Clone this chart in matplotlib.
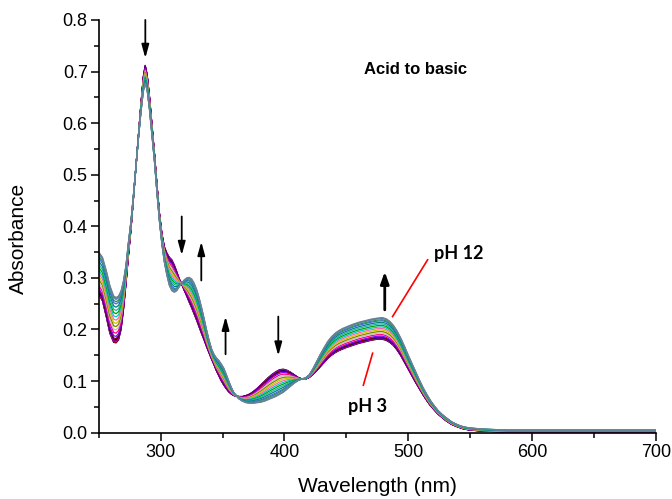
import numpy as np
import matplotlib
matplotlib.use("Agg")
import matplotlib.pyplot as plt
from matplotlib.ticker import MultipleLocator, FormatStrFormatter

# ---- data ----
wavelength = [250, 253, 256, 259, 262, 264, 266, 268, 270, 272, 274, 276, 278, 280,
              282, 284, 286, 287.5, 289, 291, 293, 295, 297, 299, 301, 303, 305, 307,
              309, 311, 313, 315, 317, 319, 321, 323, 325, 327, 329, 331, 333, 335,
              337, 339, 341, 343, 345, 347, 349, 351, 353, 355, 357, 359, 361, 363,
              366, 369, 372, 375, 378, 381, 384, 387, 390, 393, 396, 399, 402, 405,
              408, 411, 414, 417, 420, 423, 426, 429, 432, 435, 438, 441, 444, 447,
              450, 455, 460, 465, 470, 475, 479, 482, 485, 488, 491, 494, 497, 500,
              503, 506, 509, 512, 515, 518, 521, 524, 527, 530, 535, 540, 545, 550,
              560, 570, 580, 600, 650, 700]

# spectrum at pH 3 (acid form)
abs_pH3 = [0.268, 0.255, 0.225, 0.192, 0.175, 0.174, 0.180, 0.200, 0.240, 0.290, 0.345,
           0.395, 0.455, 0.515, 0.575, 0.635, 0.690, 0.712, 0.695, 0.650, 0.595, 0.540,
           0.480, 0.425, 0.385, 0.360, 0.348, 0.340, 0.335, 0.325, 0.312, 0.298, 0.288,
           0.276, 0.265, 0.253, 0.242, 0.230, 0.218, 0.205, 0.192, 0.180, 0.167, 0.155,
           0.143, 0.132, 0.120, 0.110, 0.100, 0.092, 0.085, 0.079, 0.075, 0.072, 0.071,
           0.070, 0.070, 0.072, 0.075, 0.080, 0.086, 0.093, 0.100, 0.107, 0.113, 0.118,
           0.122, 0.123, 0.121, 0.117, 0.112, 0.107, 0.104, 0.104, 0.107, 0.113, 0.120,
           0.128, 0.136, 0.144, 0.150, 0.155, 0.159, 0.162, 0.165, 0.169, 0.173, 0.176,
           0.179, 0.181, 0.181, 0.179, 0.175, 0.169, 0.160, 0.149, 0.136, 0.123, 0.110,
           0.097, 0.085, 0.073, 0.062, 0.052, 0.044, 0.036, 0.030, 0.024, 0.016, 0.011,
           0.007, 0.005, 0.003, 0.002, 0.001, 0.001, 0.001, 0.001]

# spectrum at pH 12 (basic form)
abs_pH12 = [0.350, 0.340, 0.315, 0.285, 0.265, 0.262, 0.265, 0.275, 0.295, 0.325, 0.370,
            0.410, 0.460, 0.515, 0.570, 0.620, 0.662, 0.675, 0.665, 0.625, 0.575, 0.525,
            0.465, 0.410, 0.365, 0.330, 0.305, 0.285, 0.275, 0.272, 0.275, 0.283, 0.290,
            0.296, 0.300, 0.301, 0.298, 0.290, 0.278, 0.262, 0.243, 0.222, 0.200, 0.180,
            0.163, 0.152, 0.145, 0.140, 0.133, 0.125, 0.113, 0.100, 0.088, 0.078, 0.072,
            0.066, 0.061, 0.058, 0.057, 0.057, 0.058, 0.059, 0.061, 0.064, 0.067, 0.070,
            0.074, 0.078, 0.084, 0.090, 0.096, 0.101, 0.104, 0.106, 0.112, 0.124, 0.138,
            0.152, 0.165, 0.177, 0.186, 0.193, 0.198, 0.202, 0.205, 0.210, 0.214, 0.217,
            0.220, 0.222, 0.223, 0.221, 0.216, 0.208, 0.197, 0.183, 0.167, 0.150, 0.134,
            0.118, 0.102, 0.087, 0.074, 0.062, 0.052, 0.043, 0.036, 0.030, 0.021, 0.015,
            0.011, 0.009, 0.007, 0.006, 0.005, 0.005, 0.005, 0.005]

# absorbance of each recorded spectrum near 480 nm (pH 3 -> pH 12)
peak_480 = [0.181, 0.1815, 0.182, 0.1825, 0.183, 0.184, 0.185, 0.187, 0.190, 0.193,
            0.196, 0.199, 0.202, 0.205, 0.208, 0.211, 0.214, 0.217, 0.219, 0.221,
            0.222, 0.223]

curve_colors = ['#000000', '#FF0000', '#0000FF', '#FF00FF', '#800080', '#000080',
                '#800000', '#8000FF', '#FF0080', '#C0C0C0', '#808000', '#C8C800',
                '#FF66B2', '#00C8C8', '#00A000', '#20B2AA', '#008080', '#4169E1',
                '#2E8B57', '#5F9EA0', '#4682B4', '#708090']

x_ticks = [300, 400, 500, 600, 700]
y_ticks = [0.0, 0.1, 0.2, 0.3, 0.4, 0.5, 0.6, 0.7, 0.8]

# arrows: (x, y_start, y_end)
arrows = [(287.6, 0.800, 0.726), (317.0, 0.419, 0.344), (332.8, 0.295, 0.370),
          (352.4, 0.152, 0.225), (395.0, 0.225, 0.149)]
big_arrow = (481.0, 0.238, 0.312)

plt.rcParams['font.family'] = ['Liberation Sans', 'DejaVu Sans']

fig = plt.figure(figsize=(6.72, 4.99), dpi=100)
ax = fig.add_axes([0.147, 0.133, 0.829, 0.827])

wl = np.array(wavelength)
a3 = np.array(abs_pH3)
a12 = np.array(abs_pH12)
p_lo, p_hi = peak_480[0], peak_480[-1]
for p, c in zip(peak_480, curve_colors):
    frac = (p - p_lo) / (p_hi - p_lo)
    ax.plot(wl, a3 + frac * (a12 - a3), color=c, lw=0.9, solid_joinstyle='round')

for x, y0, y1 in arrows:
    ax.annotate('', xy=(x, y1), xytext=(x, y0),
                arrowprops=dict(arrowstyle='-|>,head_length=0.8,head_width=0.22',
                                color='black', lw=1.3, shrinkA=0, shrinkB=0),
                annotation_clip=False)
x, y0, y1 = big_arrow
ax.annotate('', xy=(x, y1), xytext=(x, y0),
            arrowprops=dict(arrowstyle='-|>,head_length=0.7,head_width=0.25',
                            color='black', lw=2.0, shrinkA=0, shrinkB=0))

ax.plot([515.6, 487.3], [0.335, 0.225], color='red', lw=1.2)
ax.plot([471.2, 463.7], [0.154, 0.092], color='red', lw=1.2)

ax.text(506, 0.703, 'Acid to basic', fontsize=12, fontweight='bold',
        ha='center', va='center')
ax.text(541, 0.348, 'pH 12', fontsize=13, fontweight='bold', ha='center',
        va='center', family=['Lato', 'DejaVu Sans'])
ax.text(467, 0.050, 'pH 3', fontsize=13, fontweight='bold', ha='center',
        va='center', family=['Lato', 'DejaVu Sans'])

ax.set_xlim(250, 700)
ax.set_ylim(0, 0.8)
ax.set_xticks(x_ticks)
ax.set_yticks(y_ticks)
ax.xaxis.set_minor_locator(MultipleLocator(50))
ax.yaxis.set_minor_locator(MultipleLocator(0.05))
ax.yaxis.set_major_formatter(FormatStrFormatter('%.1f'))
ax.tick_params(which='major', direction='out', length=6, width=1.1, labelsize=13, pad=2)
ax.tick_params(which='minor', direction='out', length=3.5, width=1.1)
for s in ['top', 'right']:
    ax.spines[s].set_visible(False)
for s in ['left', 'bottom']:
    ax.spines[s].set_linewidth(1.2)

ax.set_xlabel('Wavelength (nm)', fontsize=15, labelpad=12)
ax.set_ylabel('Absorbance', fontsize=15)
ax.yaxis.set_label_coords(-0.128, 0.47)

fig.savefig('out.png', dpi=100)
